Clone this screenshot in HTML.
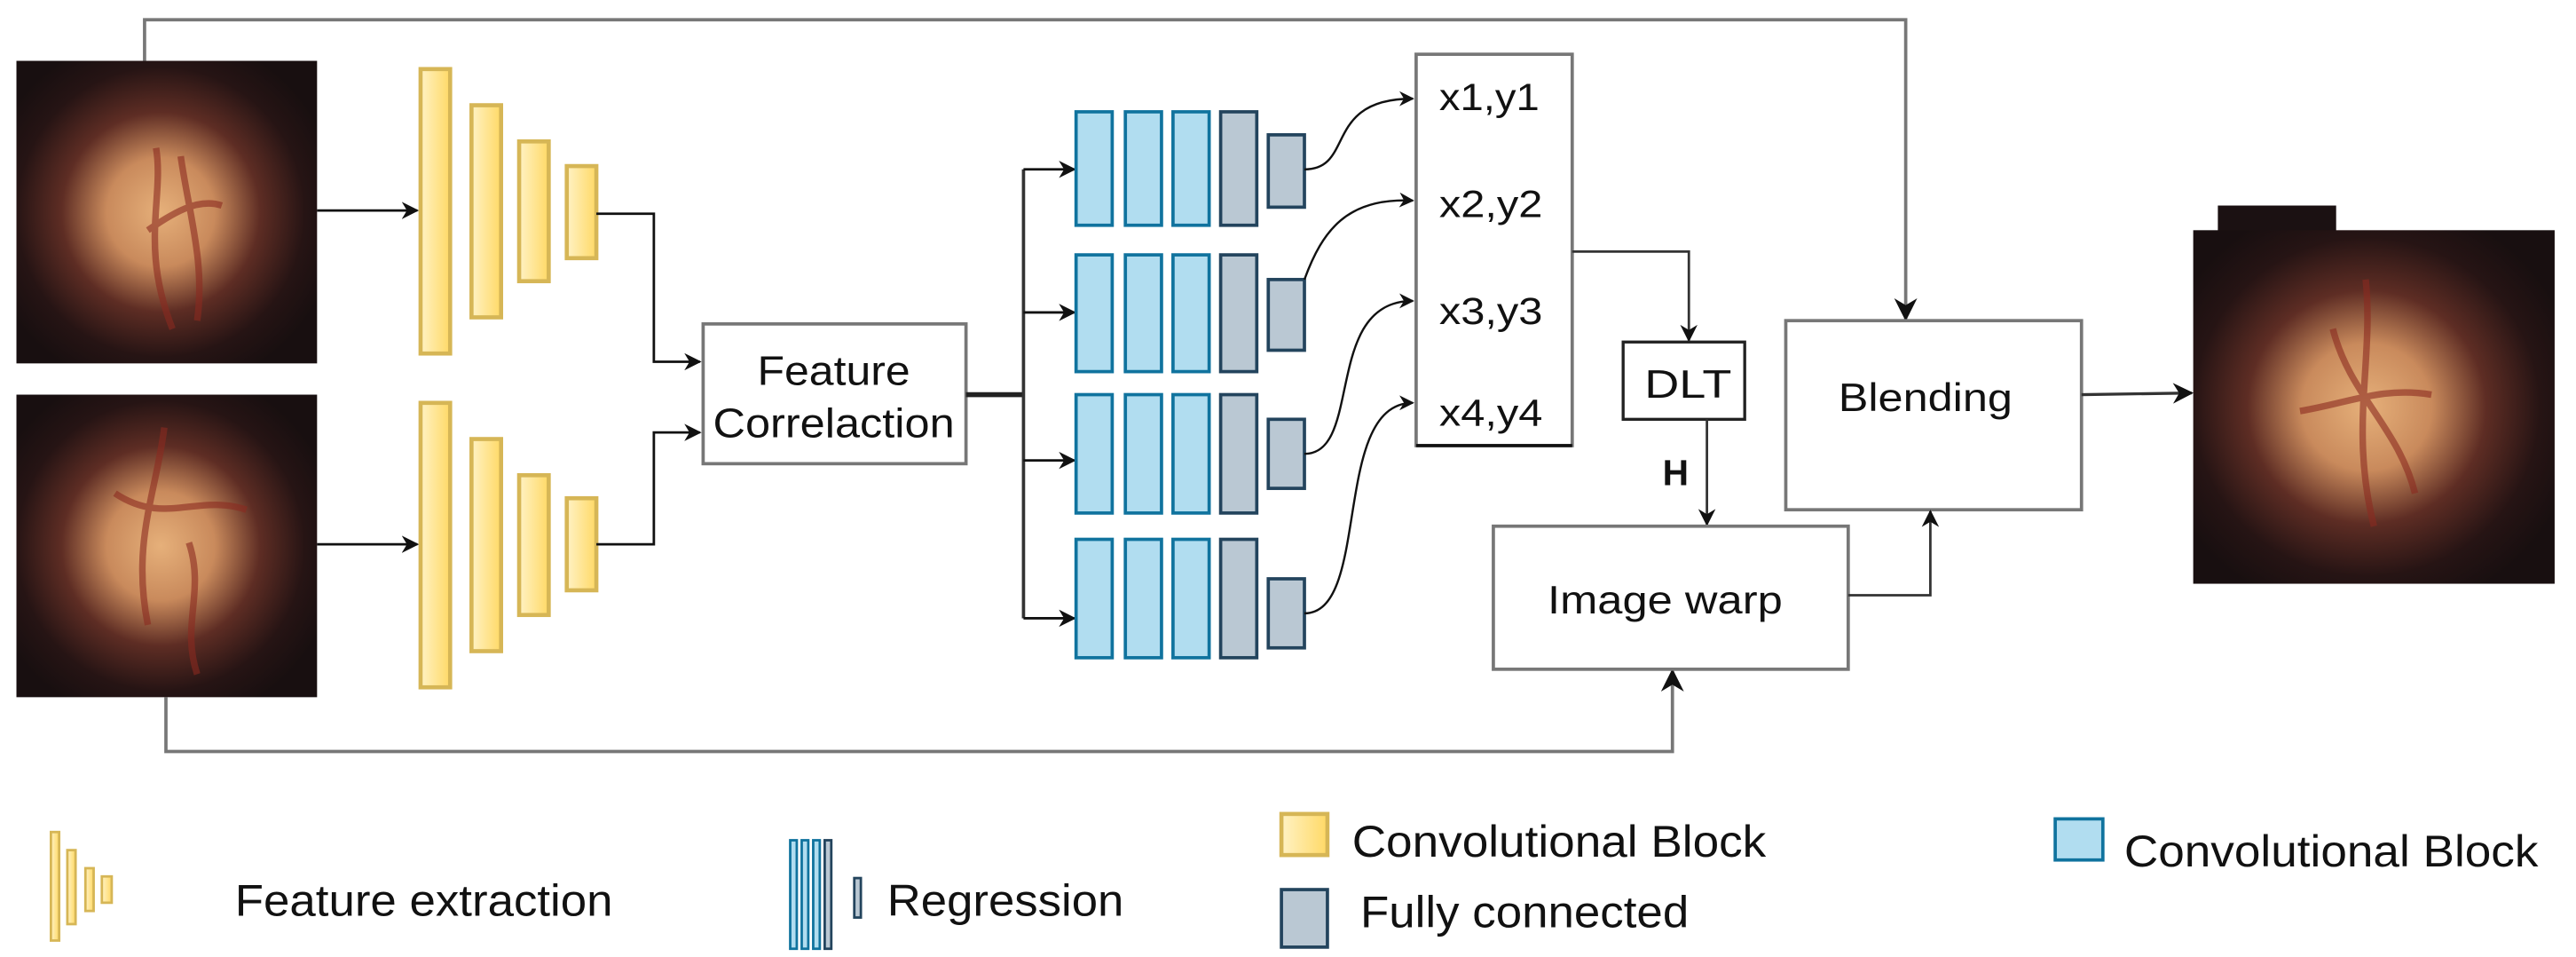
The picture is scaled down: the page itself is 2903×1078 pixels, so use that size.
<!DOCTYPE html>
<html><head><meta charset="utf-8"><style>
html,body{margin:0;padding:0;background:#fff}
svg{display:block}
text{font-family:"Liberation Sans",sans-serif;fill:#111}
</style></head><body>
<svg width="2903" height="1078" viewBox="0 0 1568 582" preserveAspectRatio="none" xmlns="http://www.w3.org/2000/svg">
<defs>
<radialGradient id="fundus" cx="0.48" cy="0.5" r="0.6">
<stop offset="0" stop-color="#e6b07a"/>
<stop offset="0.3" stop-color="#c98a5c"/>
<stop offset="0.55" stop-color="#5e2d24"/>
<stop offset="0.8" stop-color="#261414"/>
<stop offset="1" stop-color="#180f10"/>
</radialGradient>
<linearGradient id="yel" x1="0" x2="1"><stop offset="0" stop-color="#fff2c4"/><stop offset="1" stop-color="#ffd966"/></linearGradient>
<marker id="ar" viewBox="0 0 10 10" refX="9" refY="5" markerWidth="7" markerHeight="7" orient="auto"><path d="M0,0 L10,5 L0,10 L3,5 z" fill="#111"/></marker>
</defs>
<rect x="10" y="37" width="183" height="184" fill="url(#fundus)"/>
<path d="M95,90 C100,120 85,150 105,200 M110,95 C115,130 125,160 120,195 M90,140 C105,130 120,120 135,125" stroke="#8a2a20" stroke-width="4" fill="none" opacity="0.6"/>
<rect x="10" y="240" width="183" height="184" fill="url(#fundus)"/>
<path d="M100,260 C95,300 80,330 90,380 M70,300 C100,320 120,300 150,310 M115,330 C125,360 110,380 120,410" stroke="#8a2a20" stroke-width="4" fill="none" opacity="0.6"/>
<rect x="1350" y="125" width="72" height="20" fill="#1b1112"/>
<rect x="1335" y="140" width="220" height="215" fill="url(#fundus)"/>
<path d="M1440,170 C1445,220 1430,260 1445,320 M1420,200 C1430,240 1460,260 1470,300 M1400,250 C1430,245 1450,235 1480,240" stroke="#8a2a20" stroke-width="4" fill="none" opacity="0.6"/>
<polyline points="88,37 88,12 1160,12 1160,194" fill="none" stroke="#777" stroke-width="2" marker-end="url(#ar)"/>
<polyline points="101,424 101,457 1018,457 1018,408" fill="none" stroke="#777" stroke-width="2" marker-end="url(#ar)"/>
<g fill="url(#yel)" stroke="#d6b656" stroke-width="2.5">
<rect x="256" y="42" width="18" height="173"/><rect x="287" y="64" width="18" height="129"/><rect x="316" y="86" width="18" height="85"/><rect x="345" y="101" width="18" height="56"/>
<rect x="256" y="245" width="18" height="173"/><rect x="287" y="267" width="18" height="129"/><rect x="316" y="289" width="18" height="85"/><rect x="345" y="303" width="18" height="56"/>
</g>
<g fill="none" stroke="#111" stroke-width="1.5">
<line x1="193" y1="128" x2="254" y2="128" marker-end="url(#ar)"/>
<line x1="193" y1="331" x2="254" y2="331" marker-end="url(#ar)"/>
<polyline points="363,130 398,130 398,220 426,220" marker-end="url(#ar)"/>
<polyline points="363,331 398,331 398,263 426,263" marker-end="url(#ar)"/>
</g>
<rect x="428" y="197" width="160" height="85" fill="#fff" stroke="#777" stroke-width="2"/>
<text x="461" y="234" font-size="25" textLength="93" lengthAdjust="spacingAndGlyphs">Feature</text>
<text x="434" y="266" font-size="25" textLength="147" lengthAdjust="spacingAndGlyphs">Correlaction</text>
<line x1="588" y1="240" x2="623" y2="240" stroke="#222" stroke-width="3"/>
<line x1="623" y1="103" x2="623" y2="376" stroke="#333" stroke-width="2"/>
<g stroke="#111" stroke-width="1.5" fill="none">
<line x1="623" y1="103" x2="654" y2="103" marker-end="url(#ar)"/>
<line x1="623" y1="190" x2="654" y2="190" marker-end="url(#ar)"/>
<line x1="623" y1="280" x2="654" y2="280" marker-end="url(#ar)"/>
<line x1="623" y1="376" x2="654" y2="376" marker-end="url(#ar)"/>
</g>
<g stroke-width="2">
<g fill="#b1ddf0" stroke="#10739e">
<rect x="655" y="68" width="22" height="69"/><rect x="685" y="68" width="22" height="69"/><rect x="714" y="68" width="22" height="69"/>
<rect x="655" y="155" width="22" height="71"/><rect x="685" y="155" width="22" height="71"/><rect x="714" y="155" width="22" height="71"/>
<rect x="655" y="240" width="22" height="72"/><rect x="685" y="240" width="22" height="72"/><rect x="714" y="240" width="22" height="72"/>
<rect x="655" y="328" width="22" height="72"/><rect x="685" y="328" width="22" height="72"/><rect x="714" y="328" width="22" height="72"/>
</g>
<g fill="#bac8d3" stroke="#23445d">
<rect x="743" y="68" width="22" height="69"/><rect x="743" y="155" width="22" height="71"/><rect x="743" y="240" width="22" height="72"/><rect x="743" y="328" width="22" height="72"/>
<rect x="772" y="82" width="22" height="44"/><rect x="772" y="170" width="22" height="43"/><rect x="772" y="255" width="22" height="42"/><rect x="772" y="352" width="22" height="42"/>
</g>
</g>
<g stroke="#111" stroke-width="1.3" fill="none">
<path d="M794,103 C825,103 805,60 860,60" marker-end="url(#ar)"/>
<path d="M794,170 C805,140 820,120 860,122" marker-end="url(#ar)"/>
<path d="M794,276 C830,276 805,183 860,183" marker-end="url(#ar)"/>
<path d="M794,373 C835,373 810,245 860,245" marker-end="url(#ar)"/>
</g>
<rect x="862" y="33" width="95" height="238" fill="#fff" stroke="#777" stroke-width="2"/>
<line x1="862" y1="271" x2="957" y2="271" stroke="#111" stroke-width="2"/>
<g font-size="23">
<text x="876" y="67" textLength="61" lengthAdjust="spacingAndGlyphs">x1,y1</text>
<text x="876" y="132" textLength="63" lengthAdjust="spacingAndGlyphs">x2,y2</text>
<text x="876" y="197" textLength="63" lengthAdjust="spacingAndGlyphs">x3,y3</text>
<text x="876" y="259" textLength="63" lengthAdjust="spacingAndGlyphs">x4,y4</text>
</g>
<polyline points="957,153 1028,153 1028,207" fill="none" stroke="#333" stroke-width="1.5" marker-end="url(#ar)"/>
<rect x="988" y="208" width="74" height="47" fill="#fff" stroke="#222" stroke-width="1.8"/>
<text x="1001" y="242" font-size="24" textLength="53" lengthAdjust="spacingAndGlyphs">DLT</text>
<line x1="1039" y1="255" x2="1039" y2="319" stroke="#333" stroke-width="1.5" marker-end="url(#ar)"/>
<text x="1012" y="295" font-size="22" font-weight="bold">H</text>
<rect x="909" y="320" width="216" height="87" fill="#fff" stroke="#777" stroke-width="2"/>
<text x="942" y="373" font-size="24" textLength="143" lengthAdjust="spacingAndGlyphs">Image warp</text>
<rect x="1087" y="195" width="180" height="115" fill="#fff" stroke="#777" stroke-width="2"/>
<text x="1119" y="250" font-size="24" textLength="106" lengthAdjust="spacingAndGlyphs">Blending</text>
<polyline points="1125,362 1175,362 1175,311" fill="none" stroke="#333" stroke-width="1.5" marker-end="url(#ar)"/>
<line x1="1267" y1="240" x2="1334" y2="239" stroke="#333" stroke-width="1.8" marker-end="url(#ar)"/>
<g fill="url(#yel)" stroke="#d6b656" stroke-width="1.5">
<rect x="31" y="506" width="5" height="66"/><rect x="41" y="517" width="5" height="45"/><rect x="52" y="528" width="5" height="26"/><rect x="62" y="533" width="6" height="16"/>
</g>
<text x="143" y="557" font-size="27" textLength="230" lengthAdjust="spacingAndGlyphs">Feature extraction</text>
<g fill="#b1ddf0" stroke="#10739e" stroke-width="1.5">
<rect x="481" y="511" width="4" height="66"/><rect x="488" y="511" width="4" height="66"/><rect x="495" y="511" width="4" height="66"/>
</g>
<g fill="#bac8d3" stroke="#23445d" stroke-width="1.5"><rect x="502" y="511" width="4" height="66"/><rect x="520" y="534" width="4" height="24"/></g>
<text x="540" y="557" font-size="27" textLength="144" lengthAdjust="spacingAndGlyphs">Regression</text>
<rect x="780" y="495" width="28" height="25" fill="url(#yel)" stroke="#d6b656" stroke-width="2.5"/>
<text x="823" y="521" font-size="27" textLength="252" lengthAdjust="spacingAndGlyphs">Convolutional Block</text>
<rect x="780" y="541" width="28" height="35" fill="#bac8d3" stroke="#23445d" stroke-width="2"/>
<text x="828" y="564" font-size="27" textLength="200" lengthAdjust="spacingAndGlyphs">Fully connected</text>
<rect x="1251" y="498" width="29" height="25" fill="#b1ddf0" stroke="#10739e" stroke-width="2"/>
<text x="1293" y="527" font-size="27" textLength="252" lengthAdjust="spacingAndGlyphs">Convolutional Block</text>
</svg>
</body></html>
